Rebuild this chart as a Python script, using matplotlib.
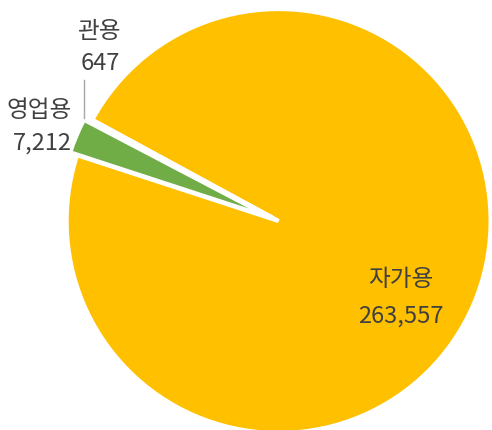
import matplotlib
matplotlib.use('Agg')
import matplotlib.pyplot as plt

plt.rcParams['font.family'] = ['Noto Sans CJK KR', 'DejaVu Sans']

# 데이터
labels = ['자가용', '영업용', '관용']
values = [263557, 7212, 647]
colors = ['#FFC000', '#70AD47', '#A5A5A5']
explode = [0, 0.035, 0.035]

fig = plt.figure(figsize=(4.92, 4.30), dpi=100)
ax = fig.add_axes([0.1354, -0.007, 0.8618, 0.986])

wedges, _ = ax.pie(values, colors=colors, explode=explode, startangle=151.5,
                   counterclock=False,
                   wedgeprops=dict(edgecolor='white', linewidth=3))
for w in wedges:
    w.set_clip_on(False)
ax.set_xlim(-1, 1)
ax.set_ylim(-1, 1)

txt = '#404040'
fs = 17
kw = dict(fontsize=fs, color=txt, clip_on=False, fontweight='light')
ax.text(0.577, -0.276, labels[0], ha='center', va='center', **kw)
ax.text(0.577, -0.450, f'{values[0]:,}', ha='center', va='center', **kw)
ax.text(-0.975, 0.519, labels[1], ha='right', va='center', **kw)
ax.text(-0.975, 0.366, f'{values[1]:,}', ha='right', va='center', **kw)
ax.text(-0.842, 0.896, labels[2], ha='center', va='center', **kw)
ax.text(-0.842, 0.745, f'{values[2]:,}', ha='center', va='center', **kw)
ax.plot([-0.918, -0.918], [0.665, 0.486], color='#A6A6A6', lw=1, clip_on=False)

fig.savefig('out.png', dpi=100)
